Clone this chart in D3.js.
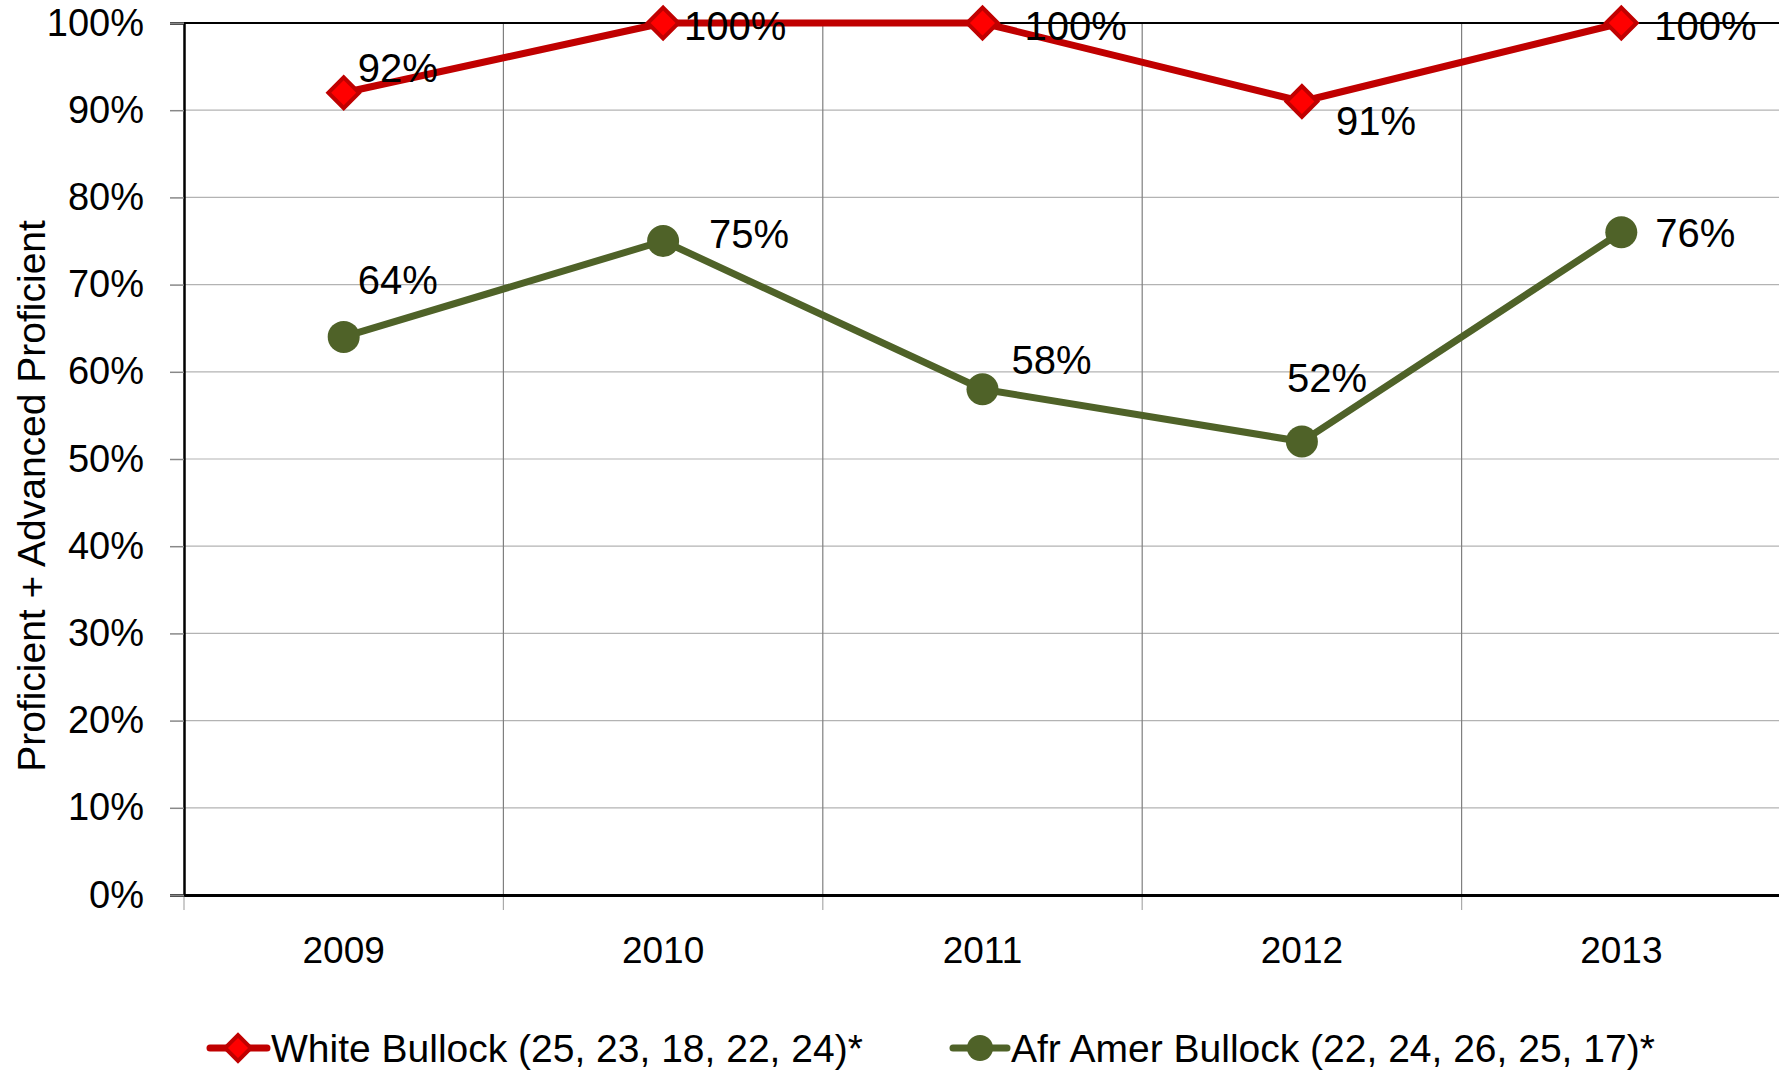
<!DOCTYPE html>
<html>
<head>
<meta charset="utf-8">
<script src="https://cdn.jsdelivr.net/npm/d3@7"></script>
<style>
  body { margin: 0; background: #fff; }
  svg { display: block; font-family: "Liberation Sans", Arial, sans-serif; }
</style>
</head>
<body>
<svg id="chart" width="1779" height="1071"></svg>
<script>
var years = ["2009", "2010", "2011", "2012", "2013"];
var whiteVals = [0.92, 1.00, 1.00, 0.91, 1.00];
var afrVals = [0.64, 0.75, 0.58, 0.52, 0.76];
var yTicks = [0, 0.1, 0.2, 0.3, 0.4, 0.5, 0.6, 0.7, 0.8, 0.9, 1.0];
var whiteName = "White Bullock (25, 23, 18, 22, 24)*";
var afrName = "Afr Amer Bullock (22, 24, 26, 25, 17)*";
// label offsets (dx, dy) from the marker, as placed in the original
var whiteLabelOff = [[14, -25], [21, 3], [42, 3], [34, 19], [33, 3]];
var afrLabelOff = [[14, -57], [46, -7], [29, -30], [-15, -64], [34, 0]];

var svg = d3.select("#chart"),
    margin = {top: 23, right: -2, bottom: 176, left: 184},
    width = +svg.attr("width") - margin.left - margin.right,
    height = +svg.attr("height") - margin.top - margin.bottom;

var x = d3.scaleBand().domain(years).range([0, width]).padding(0);
var y = d3.scaleLinear().domain([0, 1]).range([height, 0]);

var g = svg.append("g")
    .attr("transform", "translate(" + margin.left + "," + margin.top + ")");

// horizontal gridlines
g.selectAll(".hgrid")
    .data(yTicks.slice(1))
  .enter().append("line")
    .attr("x1", 0).attr("x2", width)
    .attr("y1", function(d) { return y(d); })
    .attr("y2", function(d) { return y(d); })
    .attr("stroke", "#b3b3b3").attr("stroke-width", 1.2);

// vertical gridlines at category boundaries
g.selectAll(".vgrid")
    .data(years.slice(1))
  .enter().append("line")
    .attr("x1", function(d) { return x(d); })
    .attr("x2", function(d) { return x(d); })
    .attr("y1", 0).attr("y2", height)
    .attr("stroke", "#7f7f7f").attr("stroke-width", 1.2);

// top border
g.append("line")
    .attr("x1", 0).attr("x2", width).attr("y1", 0).attr("y2", 0)
    .attr("stroke", "#000").attr("stroke-width", 2);

// y axis
var yAxis = g.append("g")
    .call(d3.axisLeft(y).tickValues(yTicks).tickFormat(d3.format(".0%")).tickSize(14).tickPadding(26));
yAxis.select(".domain").attr("stroke", "#000").attr("stroke-width", 2.5);
yAxis.selectAll(".tick line").attr("stroke", "#888").attr("stroke-width", 1.5);
yAxis.selectAll(".tick text")
    .attr("font-size", "38px").attr("fill", "#000")
    .attr("font-family", "Liberation Sans, Arial, sans-serif");

// x axis
var xAxis = g.append("g")
    .attr("transform", "translate(0," + height + ")")
    .call(d3.axisBottom(x).tickSize(0).tickPadding(42));
xAxis.select(".domain").attr("stroke", "#000").attr("stroke-width", 3);
xAxis.selectAll(".tick text")
    .attr("font-size", "37px").attr("fill", "#000")
    .attr("font-family", "Liberation Sans, Arial, sans-serif");

// tick marks at category boundaries under the axis
g.selectAll(".xtick")
    .data(years)
  .enter().append("line")
    .attr("x1", function(d) { return x(d); })
    .attr("x2", function(d) { return x(d); })
    .attr("y1", height + 2).attr("y2", height + 15)
    .attr("stroke", "#aaa").attr("stroke-width", 1.2);

// y axis title
svg.append("text")
    .attr("transform", "translate(45,496) rotate(-90)")
    .attr("text-anchor", "middle")
    .attr("font-size", "39px")
    .text("Proficient + Advanced Proficient");

var cx = function(i) { return x(years[i]) + x.bandwidth() / 2; };
var line = d3.line()
    .x(function(d, i) { return cx(i); })
    .y(function(d) { return y(d); });

var red = "#c00000", redFill = "#ff0000", green = "#4f6228";

// white series
g.append("path")
    .datum(whiteVals)
    .attr("fill", "none").attr("stroke", red).attr("stroke-width", 7)
    .attr("stroke-linejoin", "round")
    .attr("d", line);

g.selectAll(".wmark")
    .data(whiteVals)
  .enter().append("path")
    .attr("transform", function(d, i) { return "translate(" + cx(i) + "," + y(d) + ") rotate(45)"; })
    .attr("d", d3.symbol().type(d3.symbolSquare).size(470))
    .attr("fill", redFill).attr("stroke", red).attr("stroke-width", 4);

// afr amer series
g.append("path")
    .datum(afrVals)
    .attr("fill", "none").attr("stroke", green).attr("stroke-width", 7)
    .attr("stroke-linejoin", "round")
    .attr("d", line);

g.selectAll(".amark")
    .data(afrVals)
  .enter().append("circle")
    .attr("cx", function(d, i) { return cx(i); })
    .attr("cy", function(d) { return y(d); })
    .attr("r", 16)
    .attr("fill", green);

// data labels
function addLabels(vals, offs) {
    g.selectAll(null)
        .data(vals)
      .enter().append("text")
        .attr("x", function(d, i) { return cx(i) + offs[i][0]; })
        .attr("y", function(d, i) { return y(d) + offs[i][1]; })
        .attr("dy", "0.36em")
        .attr("font-size", "40px")
        .attr("fill", "#000")
        .text(function(d) { return Math.round(d * 100) + "%"; });
}
addLabels(whiteVals, whiteLabelOff);
addLabels(afrVals, afrLabelOff);

// legend
var legendY = 1048;
var legend = svg.append("g");
var lw = legend.append("g").attr("transform", "translate(210," + legendY + ")");
lw.append("line").attr("x1", 0).attr("x2", 57).attr("y1", 0).attr("y2", 0)
    .attr("stroke", red).attr("stroke-width", 7).attr("stroke-linecap", "round");
lw.append("path").attr("transform", "translate(28,0) rotate(45)")
    .attr("d", d3.symbol().type(d3.symbolSquare).size(330))
    .attr("fill", redFill).attr("stroke", red).attr("stroke-width", 4);
lw.append("text").attr("x", 61).attr("dy", "0.36em")
    .attr("font-size", "39px").text(whiteName);

var la = legend.append("g").attr("transform", "translate(953," + legendY + ")");
la.append("line").attr("x1", 0).attr("x2", 54).attr("y1", 0).attr("y2", 0)
    .attr("stroke", green).attr("stroke-width", 7).attr("stroke-linecap", "round");
la.append("circle").attr("cx", 27).attr("cy", 0).attr("r", 13).attr("fill", green);
la.append("text").attr("x", 58).attr("dy", "0.36em")
    .attr("font-size", "39px").text(afrName);
</script>
</body>
</html>
